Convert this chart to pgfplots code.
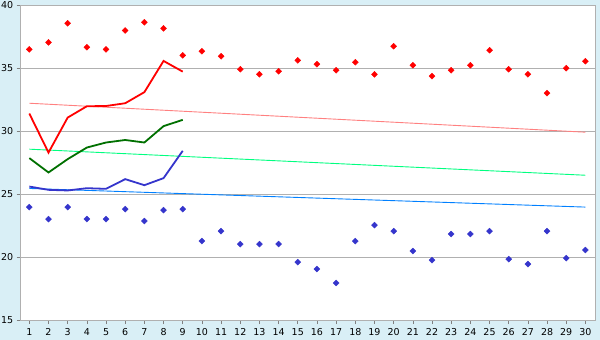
\documentclass[border=0pt]{standalone}
\usepackage{pgfplots}
\pgfplotsset{compat=1.18}
\usepackage{fontspec}
\setmainfont{DejaVu Sans}
\definecolor{bgblue}{HTML}{D9EFF6}
\definecolor{gridgray}{HTML}{B0B0B0}
\definecolor{dgreen}{HTML}{007000}
\definecolor{lblue}{HTML}{3535CC}
\definecolor{tred}{HTML}{FF8080}
\definecolor{tgreen}{HTML}{00FF80}
\definecolor{tblue}{HTML}{0080FF}
\begin{document}
\begin{tikzpicture}[x=1pt,y=1pt]
\fill[bgblue] (0,0) rectangle (600,340);
\useasboundingbox (0,0) rectangle (600,340);
\begin{axis}[at={(20.7pt,20pt)}, anchor=south west, scale only axis,
  width=574.3pt, height=314.7pt,
  xmin=0.55, xmax=30.5, ymin=15, ymax=40,
  ytick={15,20,...,40}, xtick={1,...,30},
  ymajorgrids, grid style={color=gridgray, line width=0.8pt},
  axis line style={gridgray, line width=0.8pt},
  tick style={color=gray, line width=0.6pt},
  tick align=outside, major tick length=4pt, tick pos=left,
  axis background/.style={fill=white},
  ticklabel style={font=\fontsize{9.5}{11}\selectfont},
  /pgf/number format/assume math mode=true,
  xticklabel style={yshift=-1pt},
]
% trend lines
\addplot[tred, line width=0.9pt] coordinates {(1,32.22) (30,29.92)};
\addplot[tgreen, line width=0.9pt] coordinates {(1,28.57) (30,26.50)};
\addplot[tblue, line width=0.9pt] coordinates {(1,25.45) (30,23.97)};
% lines
\addplot[red, line width=1.8pt] coordinates {(1,31.4) (2,28.3) (3,31.08) (4,31.98) (5,32.0) (6,32.22) (7,33.1) (8,35.58) (9,34.73)};
\addplot[dgreen, line width=1.8pt] coordinates {(1,27.86) (2,26.72) (3,27.78) (4,28.7) (5,29.1) (6,29.3) (7,29.1) (8,30.4) (9,30.9)};
\addplot[lblue, line width=1.8pt] coordinates {(1,25.6) (2,25.34) (3,25.29) (4,25.47) (5,25.42) (6,26.19) (7,25.71) (8,26.27) (9,28.44)};
% markers
\addplot[only marks, mark=square*, mark size=2.1pt, red, mark options={fill=red, draw=red, rotate=45}] coordinates {
(1,36.5) (2,37.06) (3,38.57) (4,36.67) (5,36.5) (6,38.0) (7,38.65) (8,38.17) (9,36.03) (10,36.35)
(11,35.95) (12,34.92) (13,34.52) (14,34.76) (15,35.63) (16,35.32) (17,34.84) (18,35.48) (19,34.52) (20,36.75)
(21,35.24) (22,34.37) (23,34.84) (24,35.24) (25,36.43) (26,34.92) (27,34.52) (28,33.02) (29,35.0) (30,35.56)};
\addplot[only marks, mark=square*, mark size=2.1pt, lblue, mark options={fill=lblue, draw=lblue, rotate=45}] coordinates {
(1,23.97) (2,23.02) (3,23.97) (4,23.02) (5,23.02) (6,23.81) (7,22.86) (8,23.73) (9,23.81) (10,21.27)
(11,22.06) (12,21.03) (13,21.03) (14,21.03) (15,19.60) (16,19.05) (17,17.94) (18,21.27) (19,22.54) (20,22.06)
(21,20.48) (22,19.76) (23,21.83) (24,21.83) (25,22.06) (26,19.84) (27,19.44) (28,22.06) (29,19.92) (30,20.56)};
\end{axis}
\end{tikzpicture}
\end{document}
